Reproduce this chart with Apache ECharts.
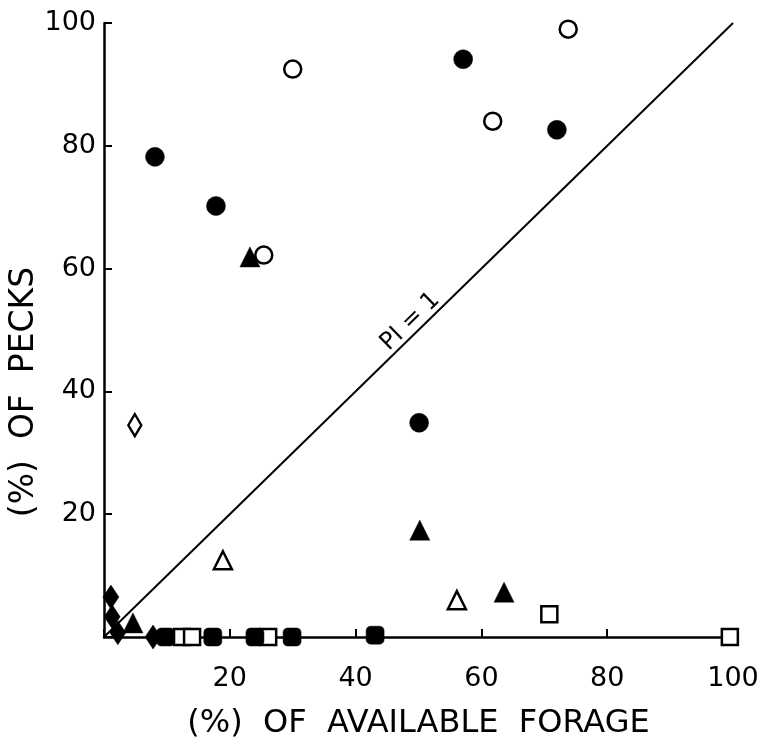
<html>
<head>
    <title>Pecks vs available forage</title>
    <style>
        * { margin: 0; padding: 0; }
        body { background: #fff; }
        #chart-container { width: 772px; height: 739px; }
    </style>
</head>
<body>
<div id="chart-container"></div>
<script src="https://cdn.jsdelivr.net/npm/echarts@6/dist/echarts.min.js"></script>
<script>
    // [% of available forage, % of pecks]
    const filledCircles = [[8.1, 78.2], [17.8, 70.2], [57.1, 94.1], [72.0, 82.6], [50.1, 34.9]];
    const openCircles = [[30.0, 92.5], [25.4, 62.2], [61.8, 84.0], [73.8, 99.0]];
    const filledTriangles = [[23.2, 61.9], [50.2, 17.4], [63.6, 7.3], [4.6, 2.3]];
    const openTriangles = [[18.9, 12.5], [56.1, 6.0]];
    const filledDiamonds = [[1.1, 6.5], [1.3, 3.3], [2.2, 0.7], [7.8, 0]];
    const openDiamonds = [[4.9, 34.5]];
    const filledSquares = [[9.8, 0], [17.3, 0], [24.0, 0], [29.9, 0], [43.1, 0.3]];
    const openSquares = [[12.4, 0], [14.0, 0], [26.1, 0], [70.8, 3.7], [99.5, 0]];
    const piLine = [[0, 0], [100, 100]];
    const xTicks = [0, 20, 40, 60, 80, 100];

    const FONT = 'DejaVu Sans';

    function pts(data, symbol, size, filled) {
        return {
            type: 'scatter',
            data: data,
            symbol: symbol,
            symbolSize: size,
            clip: false,
            z: 3,
            itemStyle: filled
                ? { color: '#000', borderColor: '#000', borderWidth: 0.5, opacity: 1 }
                : { color: '#fff', borderColor: '#000', borderWidth: 2.5, opacity: 1 }
        };
    }

    var dom = document.getElementById('chart-container');
    var myChart = echarts.init(dom, null, { renderer: 'canvas' });

    var axisCommon = {
        type: 'value',
        min: xTicks[0],
        max: xTicks[xTicks.length - 1],
        interval: 20,
        axisLine: { show: true, lineStyle: { color: '#000', width: 2.5 } },
        axisTick: { show: true, inside: true, length: 8, lineStyle: { color: '#000', width: 2 } },
        splitLine: { show: false },
        nameLocation: 'middle',
        nameMoveOverlap: false
    };

    var option = {
        backgroundColor: '#fff',
        animation: false,
        grid: { left: 104, right: 39, top: 23, bottom: 102, containLabel: false, outerBoundsMode: 'none' },
        xAxis: Object.assign({}, axisCommon, {
            name: '(%)  OF  AVAILABLE  FORAGE',
            nameGap: 55,
            nameTextStyle: { fontFamily: FONT, fontSize: 32, color: '#000' },
            axisLabel: {
                margin: 15,
                fontFamily: FONT, fontSize: 27, color: '#000',
                formatter: function (v) { return v === 0 ? '' : String(v); }
            }
        }),
        yAxis: Object.assign({}, axisCommon, {
            name: '(%)  OF  PECKS',
            nameGap: 47,
            nameRotate: 90,
            nameTextStyle: { fontFamily: FONT, fontSize: 33, color: '#000', padding: [0, 124, 0, 0] },
            axisLabel: {
                margin: 8,
                fontFamily: FONT, fontSize: 27, color: '#000',
                formatter: function (v) { return v === 0 ? '' : String(v); }
            }
        }),
        series: [
            {
                type: 'line',
                data: [],
                z: 2,
                markLine: {
                    silent: true,
                    symbol: ['none', 'none'],
                    lineStyle: { color: '#000', width: 2, type: 'solid' },
                    label: {
                        show: true,
                        position: 'middle',
                        distance: -12,
                        formatter: 'PI = 1',
                        fontFamily: FONT,
                        fontSize: 24,
                        color: '#000'
                    },
                    data: [[{ coord: piLine[0] }, { coord: piLine[1] }]]
                }
            },
            pts(filledCircles, 'circle', 19, true),
            pts(openCircles, 'circle', 17, false),
            pts(filledTriangles, 'triangle', 20, true),
            pts(openTriangles, 'triangle', 18, false),
            pts(openSquares, 'rect', 16, false),
            pts(filledSquares, 'roundRect', 18, true),
            pts(filledDiamonds, 'diamond', [16, 24], true),
            pts(openDiamonds, 'diamond', [13, 22], false)
        ]
    };

    myChart.setOption(option);
    window.addEventListener('resize', myChart.resize);
</script>
</body>
</html>
